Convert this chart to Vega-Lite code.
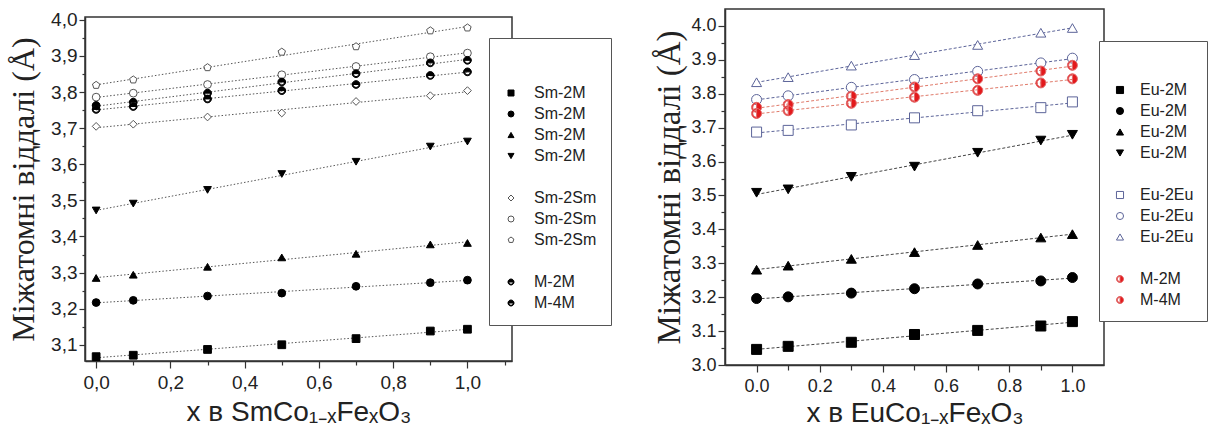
{
  "$schema": "https://vega.github.io/schema/vega-lite/v6.json",
  "padding": {"left": 6, "top": 8, "right": 0, "bottom": 0},
  "spacing": 40,
  "background": "white",
  "config": {
    "view": {"stroke": "#333", "strokeWidth": 1.5},
    "axis": {"grid": false, "domainColor": "#333", "domainWidth": 1.5, "tickColor": "#333", "tickWidth": 1.2, "labelColor": "#222", "titleColor": "#222", "labelFont": "Liberation Sans", "titleFontWeight": "normal"}
  },
  "resolve": {
    "scale": {"x": "independent", "y": "independent", "shape": "independent", "fill": "independent", "stroke": "independent", "color": "independent"},
    "legend": {"shape": "independent", "fill": "independent", "stroke": "independent"}
  },
  "datasets": {
    "sm": [
      {"x": 0, "v": 3.067, "s": "Sm-2M|1"}, {"x": 0.1, "v": 3.071, "s": "Sm-2M|1"}, {"x": 0.3, "v": 3.087, "s": "Sm-2M|1"}, {"x": 0.5, "v": 3.100, "s": "Sm-2M|1"}, {"x": 0.7, "v": 3.117, "s": "Sm-2M|1"}, {"x": 0.9, "v": 3.138, "s": "Sm-2M|1"}, {"x": 1.0, "v": 3.143, "s": "Sm-2M|1"},
      {"x": 0, "v": 3.217, "s": "Sm-2M|2"}, {"x": 0.1, "v": 3.223, "s": "Sm-2M|2"}, {"x": 0.3, "v": 3.235, "s": "Sm-2M|2"}, {"x": 0.5, "v": 3.243, "s": "Sm-2M|2"}, {"x": 0.7, "v": 3.262, "s": "Sm-2M|2"}, {"x": 0.9, "v": 3.272, "s": "Sm-2M|2"}, {"x": 1.0, "v": 3.279, "s": "Sm-2M|2"},
      {"x": 0, "v": 3.285, "s": "Sm-2M|3"}, {"x": 0.1, "v": 3.294, "s": "Sm-2M|3"}, {"x": 0.3, "v": 3.316, "s": "Sm-2M|3"}, {"x": 0.5, "v": 3.342, "s": "Sm-2M|3"}, {"x": 0.7, "v": 3.352, "s": "Sm-2M|3"}, {"x": 0.9, "v": 3.378, "s": "Sm-2M|3"}, {"x": 1.0, "v": 3.382, "s": "Sm-2M|3"},
      {"x": 0, "v": 3.472, "s": "Sm-2M|4"}, {"x": 0.1, "v": 3.491, "s": "Sm-2M|4"}, {"x": 0.3, "v": 3.529, "s": "Sm-2M|4"}, {"x": 0.5, "v": 3.573, "s": "Sm-2M|4"}, {"x": 0.7, "v": 3.607, "s": "Sm-2M|4"}, {"x": 0.9, "v": 3.649, "s": "Sm-2M|4"}, {"x": 1.0, "v": 3.663, "s": "Sm-2M|4"},
      {"x": 0, "v": 3.705, "s": "Sm-2Sm|1"}, {"x": 0.1, "v": 3.711, "s": "Sm-2Sm|1"}, {"x": 0.3, "v": 3.731, "s": "Sm-2Sm|1"}, {"x": 0.5, "v": 3.742, "s": "Sm-2Sm|1"}, {"x": 0.7, "v": 3.774, "s": "Sm-2Sm|1"}, {"x": 0.9, "v": 3.790, "s": "Sm-2Sm|1"}, {"x": 1.0, "v": 3.804, "s": "Sm-2Sm|1"},
      {"x": 0, "v": 3.786, "s": "Sm-2Sm|2"}, {"x": 0.1, "v": 3.797, "s": "Sm-2Sm|2"}, {"x": 0.3, "v": 3.821, "s": "Sm-2Sm|2"}, {"x": 0.5, "v": 3.848, "s": "Sm-2Sm|2"}, {"x": 0.7, "v": 3.871, "s": "Sm-2Sm|2"}, {"x": 0.9, "v": 3.898, "s": "Sm-2Sm|2"}, {"x": 1.0, "v": 3.908, "s": "Sm-2Sm|2"},
      {"x": 0, "v": 3.819, "s": "Sm-2Sm|3"}, {"x": 0.1, "v": 3.834, "s": "Sm-2Sm|3"}, {"x": 0.3, "v": 3.868, "s": "Sm-2Sm|3"}, {"x": 0.5, "v": 3.911, "s": "Sm-2Sm|3"}, {"x": 0.7, "v": 3.926, "s": "Sm-2Sm|3"}, {"x": 0.9, "v": 3.970, "s": "Sm-2Sm|3"}, {"x": 1.0, "v": 3.978, "s": "Sm-2Sm|3"},
      {"x": 0, "v": 3.763, "s": "M-2M|1"}, {"x": 0.1, "v": 3.772, "s": "M-2M|1"}, {"x": 0.3, "v": 3.797, "s": "M-2M|1"}, {"x": 0.5, "v": 3.828, "s": "M-2M|1"}, {"x": 0.7, "v": 3.851, "s": "M-2M|1"}, {"x": 0.9, "v": 3.881, "s": "M-2M|1"}, {"x": 1.0, "v": 3.888, "s": "M-2M|1"},
      {"x": 0, "v": 3.752, "s": "M-4M|1"}, {"x": 0.1, "v": 3.760, "s": "M-4M|1"}, {"x": 0.3, "v": 3.781, "s": "M-4M|1"}, {"x": 0.5, "v": 3.804, "s": "M-4M|1"}, {"x": 0.7, "v": 3.821, "s": "M-4M|1"}, {"x": 0.9, "v": 3.846, "s": "M-4M|1"}, {"x": 1.0, "v": 3.856, "s": "M-4M|1"}
    ],
    "eu": [
      {"x": 0, "v": 3.046, "s": "Eu-2M|1"}, {"x": 0.1, "v": 3.055, "s": "Eu-2M|1"}, {"x": 0.3, "v": 3.067, "s": "Eu-2M|1"}, {"x": 0.5, "v": 3.090, "s": "Eu-2M|1"}, {"x": 0.7, "v": 3.102, "s": "Eu-2M|1"}, {"x": 0.9, "v": 3.115, "s": "Eu-2M|1"}, {"x": 1.0, "v": 3.128, "s": "Eu-2M|1"},
      {"x": 0, "v": 3.196, "s": "Eu-2M|2"}, {"x": 0.1, "v": 3.201, "s": "Eu-2M|2"}, {"x": 0.3, "v": 3.212, "s": "Eu-2M|2"}, {"x": 0.5, "v": 3.225, "s": "Eu-2M|2"}, {"x": 0.7, "v": 3.239, "s": "Eu-2M|2"}, {"x": 0.9, "v": 3.248, "s": "Eu-2M|2"}, {"x": 1.0, "v": 3.258, "s": "Eu-2M|2"},
      {"x": 0, "v": 3.281, "s": "Eu-2M|3"}, {"x": 0.1, "v": 3.293, "s": "Eu-2M|3"}, {"x": 0.3, "v": 3.313, "s": "Eu-2M|3"}, {"x": 0.5, "v": 3.333, "s": "Eu-2M|3"}, {"x": 0.7, "v": 3.354, "s": "Eu-2M|3"}, {"x": 0.9, "v": 3.376, "s": "Eu-2M|3"}, {"x": 1.0, "v": 3.386, "s": "Eu-2M|3"},
      {"x": 0, "v": 3.508, "s": "Eu-2M|4"}, {"x": 0.1, "v": 3.518, "s": "Eu-2M|4"}, {"x": 0.3, "v": 3.555, "s": "Eu-2M|4"}, {"x": 0.5, "v": 3.585, "s": "Eu-2M|4"}, {"x": 0.7, "v": 3.626, "s": "Eu-2M|4"}, {"x": 0.9, "v": 3.662, "s": "Eu-2M|4"}, {"x": 1.0, "v": 3.679, "s": "Eu-2M|4"},
      {"x": 0, "v": 3.687, "s": "Eu-2Eu|1"}, {"x": 0.1, "v": 3.692, "s": "Eu-2Eu|1"}, {"x": 0.3, "v": 3.708, "s": "Eu-2Eu|1"}, {"x": 0.5, "v": 3.729, "s": "Eu-2Eu|1"}, {"x": 0.7, "v": 3.750, "s": "Eu-2Eu|1"}, {"x": 0.9, "v": 3.759, "s": "Eu-2Eu|1"}, {"x": 1.0, "v": 3.776, "s": "Eu-2Eu|1"},
      {"x": 0, "v": 3.783, "s": "Eu-2Eu|2"}, {"x": 0.1, "v": 3.794, "s": "Eu-2Eu|2"}, {"x": 0.3, "v": 3.819, "s": "Eu-2Eu|2"}, {"x": 0.5, "v": 3.842, "s": "Eu-2Eu|2"}, {"x": 0.7, "v": 3.866, "s": "Eu-2Eu|2"}, {"x": 0.9, "v": 3.891, "s": "Eu-2Eu|2"}, {"x": 1.0, "v": 3.905, "s": "Eu-2Eu|2"},
      {"x": 0, "v": 3.834, "s": "Eu-2Eu|3"}, {"x": 0.1, "v": 3.849, "s": "Eu-2Eu|3"}, {"x": 0.3, "v": 3.883, "s": "Eu-2Eu|3"}, {"x": 0.5, "v": 3.914, "s": "Eu-2Eu|3"}, {"x": 0.7, "v": 3.944, "s": "Eu-2Eu|3"}, {"x": 0.9, "v": 3.980, "s": "Eu-2Eu|3"}, {"x": 1.0, "v": 3.994, "s": "Eu-2Eu|3"},
      {"x": 0, "v": 3.760, "s": "M-2M|1"}, {"x": 0.1, "v": 3.768, "s": "M-2M|1"}, {"x": 0.3, "v": 3.793, "s": "M-2M|1"}, {"x": 0.5, "v": 3.820, "s": "M-2M|1"}, {"x": 0.7, "v": 3.844, "s": "M-2M|1"}, {"x": 0.9, "v": 3.867, "s": "M-2M|1"}, {"x": 1.0, "v": 3.884, "s": "M-2M|1"},
      {"x": 0, "v": 3.742, "s": "M-4M|1"}, {"x": 0.1, "v": 3.750, "s": "M-4M|1"}, {"x": 0.3, "v": 3.772, "s": "M-4M|1"}, {"x": 0.5, "v": 3.790, "s": "M-4M|1"}, {"x": 0.7, "v": 3.810, "s": "M-4M|1"}, {"x": 0.9, "v": 3.832, "s": "M-4M|1"}, {"x": 1.0, "v": 3.844, "s": "M-4M|1"}
    ]
  },
  "hconcat": [
    {
      "spacing": 0,
      "resolve": {
        "scale": {"x": "independent", "y": "independent", "shape": "independent", "fill": "independent", "stroke": "independent"},
        "legend": {"shape": "independent", "fill": "independent", "stroke": "independent"}
      },
      "vconcat": [
        {"width": 10, "height": 1, "view": {"stroke": null}, "data": {"values": []}, "mark": "point"},
        {
          "width": 427,
          "height": 344,
          "data": {"name": "sm"},
          "encoding": {
            "x": {"field": "x", "type": "quantitative",
              "scale": {"domain": [-0.03, 1.12], "nice": false, "zero": false},
              "axis": {"title": "x в SmCo₁₋ₓFeₓO₃", "titleFont": "Liberation Sans", "titleFontSize": 28, "titlePadding": 6,
                "values": [0, 0.1, 0.2, 0.3, 0.4, 0.5, 0.6, 0.7, 0.8, 0.9, 1.0, 1.1],
                "labelExpr": "abs(datum.value*5 - round(datum.value*5)) < 0.001 ? replace(format(datum.value, '.1f'), '.', ',') : ''",
                "labelFontSize": 19, "labelPadding": 5, "labelFlush": false, "labelOverlap": false,
                "tickSize": {"condition": {"test": "abs(datum.value*5 - round(datum.value*5)) < 0.001", "value": 7}, "value": 4}}},
            "y": {"field": "v", "type": "quantitative",
              "scale": {"domain": [3.055, 4.008], "nice": false, "zero": false},
              "axis": {"title": "Міжатомні віддалі (Å)", "titleFont": "Liberation Serif", "titleFontSize": 32, "titlePadding": 10,
                "values": [3.1, 3.15, 3.2, 3.25, 3.3, 3.35, 3.4, 3.45, 3.5, 3.55, 3.6, 3.65, 3.7, 3.75, 3.8, 3.85, 3.9, 3.95, 4.0],
                "labelExpr": "abs(datum.value*10 - round(datum.value*10)) < 0.001 ? replace(format(datum.value, '.1f'), '.', ',') : ''",
                "labelFontSize": 19, "labelPadding": 2, "labelFlush": false, "labelOverlap": false,
                "tickSize": {"condition": {"test": "abs(datum.value*10 - round(datum.value*10)) < 0.001", "value": 6}, "value": 3}}}
          },
          "layer": [
            {
              "transform": [{"regression": "v", "on": "x", "groupby": ["s"], "method": "linear"}],
              "mark": {"type": "line", "color": "#555", "strokeWidth": 1, "strokeDash": [1.5, 2]},
              "encoding": {"detail": {"field": "s", "type": "nominal"}}
            },
            {
              "mark": {"type": "point", "filled": true, "size": 60, "strokeWidth": 1, "opacity": 1},
              "encoding": {
                "shape": {"field": "s", "type": "nominal",
                  "scale": {"domain": ["Sm-2M|1", "Sm-2M|2", "Sm-2M|3", "Sm-2M|4", "|g1", "Sm-2Sm|1", "Sm-2Sm|2", "Sm-2Sm|3", "|g2", "M-2M|1", "M-4M|1"],
                    "range": ["square", "circle", "triangle-up", "triangle-down", "M0,0", "diamond", "circle", "M0,-1L0.951,-0.309L0.588,0.809L-0.588,0.809L-0.951,-0.309Z", "M0,0", "M-1,0A1,1,0,0,1,1,0ZM1,0A1,1,0,0,1,-1,0L-0.75,0A0.75,0.75,0,0,0,0.75,0Z", "M-1,0A1,1,0,0,1,1,0ZM1,0A1,1,0,0,1,-1,0L-0.75,0A0.75,0.75,0,0,0,0.75,0Z"]},
                  "legend": {"orient": "none", "legendX": 404, "legendY": 21, "title": " ", "titleFontSize": 10, "titlePadding": 23, "padding": 14, "strokeColor": "#555", "fillColor": "white", "labelFont": "Liberation Sans", "labelFontSize": 16, "labelColor": "#222", "labelOffset": 15, "rowPadding": 5, "symbolSize": 36, "symbolStrokeWidth": 1, "labelExpr": "split(datum.label, '|')[0]"}},
                "fill": {"field": "s", "type": "nominal",
                  "scale": {"domain": ["Sm-2M|1", "Sm-2M|2", "Sm-2M|3", "Sm-2M|4", "|g1", "Sm-2Sm|1", "Sm-2Sm|2", "Sm-2Sm|3", "|g2", "M-2M|1", "M-4M|1"],
                    "range": ["#000", "#000", "#000", "#000", "rgba(0,0,0,0)", "white", "white", "white", "rgba(0,0,0,0)", "#000", "#000"]},
                  "legend": {"orient": "none", "legendX": 404, "legendY": 21, "title": " ", "titleFontSize": 10, "titlePadding": 23, "padding": 14, "strokeColor": "#555", "fillColor": "white", "labelFont": "Liberation Sans", "labelFontSize": 16, "labelColor": "#222", "labelOffset": 15, "rowPadding": 5, "symbolSize": 36, "symbolStrokeWidth": 1, "labelExpr": "split(datum.label, '|')[0]"}},
                "stroke": {"field": "s", "type": "nominal",
                  "scale": {"domain": ["Sm-2M|1", "Sm-2M|2", "Sm-2M|3", "Sm-2M|4", "|g1", "Sm-2Sm|1", "Sm-2Sm|2", "Sm-2Sm|3", "|g2", "M-2M|1", "M-4M|1"],
                    "range": ["#000", "#000", "#000", "#000", "rgba(0,0,0,0)", "#555", "#555", "#555", "rgba(0,0,0,0)", "#000", "#000"]},
                  "legend": {"orient": "none", "legendX": 404, "legendY": 21, "title": " ", "titleFontSize": 10, "titlePadding": 23, "padding": 14, "strokeColor": "#555", "fillColor": "white", "labelFont": "Liberation Sans", "labelFontSize": 16, "labelColor": "#222", "labelOffset": 15, "rowPadding": 5, "symbolSize": 36, "symbolStrokeWidth": 1, "labelExpr": "split(datum.label, '|')[0]"}}
              }
            }
          ]
        }
      ]
    },
    {
      "width": 379,
      "height": 356,
      "data": {"name": "eu"},
      "encoding": {
        "x": {"field": "x", "type": "quantitative",
          "scale": {"domain": [-0.1, 1.1], "nice": false, "zero": false},
          "axis": {"title": "x  в EuCo₁₋ₓFeₓO₃", "titleFont": "Liberation Sans", "titleFontSize": 28, "titlePadding": 4,
            "values": [0, 0.1, 0.2, 0.3, 0.4, 0.5, 0.6, 0.7, 0.8, 0.9, 1.0],
            "labelExpr": "abs(datum.value*5 - round(datum.value*5)) < 0.001 ? format(datum.value, '.1f') : ''",
            "labelFontSize": 18, "labelPadding": 5, "labelFlush": false, "labelOverlap": false,
            "tickSize": {"condition": {"test": "abs(datum.value*5 - round(datum.value*5)) < 0.001", "value": 7}, "value": 5}}},
        "y": {"field": "v", "type": "quantitative",
          "scale": {"domain": [3.0, 4.05], "nice": false, "zero": false},
          "axis": {"title": "Міжатомні віддалі (Å)", "titleFont": "Liberation Serif", "titleFontSize": 33, "titlePadding": 4,
            "values": [3.0, 3.05, 3.1, 3.15, 3.2, 3.25, 3.3, 3.35, 3.4, 3.45, 3.5, 3.55, 3.6, 3.65, 3.7, 3.75, 3.8, 3.85, 3.9, 3.95, 4.0],
            "labelExpr": "abs(datum.value*10 - round(datum.value*10)) < 0.001 ? format(datum.value, '.1f') : ''",
            "labelFontSize": 18, "labelPadding": 2, "labelFlush": false, "labelOverlap": false,
            "tickSize": {"condition": {"test": "abs(datum.value*10 - round(datum.value*10)) < 0.001", "value": 7}, "value": 4}}}
      },
      "layer": [
        {
          "transform": [{"regression": "v", "on": "x", "groupby": ["s"], "method": "linear"}],
          "mark": {"type": "line", "strokeWidth": 1, "strokeDash": [3, 2]},
          "encoding": {
            "color": {"field": "s", "type": "nominal", "legend": null,
              "scale": {"domain": ["Eu-2M|1", "Eu-2M|2", "Eu-2M|3", "Eu-2M|4", "Eu-2Eu|1", "Eu-2Eu|2", "Eu-2Eu|3", "M-2M|1", "M-4M|1"],
                "range": ["#444", "#444", "#444", "#444", "#5c6499", "#5c6499", "#5c6499", "#e07a6a", "#e07a6a"]}}
          }
        },
        {
          "mark": {"type": "point", "filled": true, "size": 100, "strokeWidth": 1, "opacity": 1},
          "encoding": {
            "shape": {"field": "s", "type": "nominal",
              "scale": {"domain": ["Eu-2M|1", "Eu-2M|2", "Eu-2M|3", "Eu-2M|4", "|g1", "Eu-2Eu|1", "Eu-2Eu|2", "Eu-2Eu|3", "|g2", "M-2M|1", "M-4M|1"],
                "range": ["square", "circle", "triangle-up", "triangle-down", "M0,0", "square", "circle", "triangle-up", "M0,0", "M0,-1A1,1,0,0,1,0,1ZM0,1A1,1,0,0,1,0,-1L0,-0.75A0.75,0.75,0,0,0,0,0.75Z", "M0,-1A1,1,0,0,1,0,1ZM0,1A1,1,0,0,1,0,-1L0,-0.75A0.75,0.75,0,0,0,0,0.75Z"]},
              "legend": {"orient": "none", "legendX": 374, "legendY": 32, "title": " ", "titleFontSize": 10, "titlePadding": 18, "padding": 13, "strokeColor": "#555", "fillColor": "white", "labelFont": "Liberation Sans", "labelFontSize": 16, "labelColor": "#222", "labelOffset": 12, "rowPadding": 5, "symbolSize": 50, "symbolStrokeWidth": 1, "labelExpr": "split(datum.label, '|')[0]"}},
            "fill": {"field": "s", "type": "nominal",
              "scale": {"domain": ["Eu-2M|1", "Eu-2M|2", "Eu-2M|3", "Eu-2M|4", "|g1", "Eu-2Eu|1", "Eu-2Eu|2", "Eu-2Eu|3", "|g2", "M-2M|1", "M-4M|1"],
                "range": ["#000", "#000", "#000", "#000", "rgba(0,0,0,0)", "white", "white", "white", "rgba(0,0,0,0)", "#e3191c", "#e3191c"]},
              "legend": {"orient": "none", "legendX": 374, "legendY": 32, "title": " ", "titleFontSize": 10, "titlePadding": 18, "padding": 13, "strokeColor": "#555", "fillColor": "white", "labelFont": "Liberation Sans", "labelFontSize": 16, "labelColor": "#222", "labelOffset": 12, "rowPadding": 5, "symbolSize": 50, "symbolStrokeWidth": 1, "labelExpr": "split(datum.label, '|')[0]"}},
            "stroke": {"field": "s", "type": "nominal",
              "scale": {"domain": ["Eu-2M|1", "Eu-2M|2", "Eu-2M|3", "Eu-2M|4", "|g1", "Eu-2Eu|1", "Eu-2Eu|2", "Eu-2Eu|3", "|g2", "M-2M|1", "M-4M|1"],
                "range": ["#000", "#000", "#000", "#000", "rgba(0,0,0,0)", "#5c6499", "#5c6499", "#5c6499", "rgba(0,0,0,0)", "#e36a6a", "#e36a6a"]},
              "legend": {"orient": "none", "legendX": 374, "legendY": 32, "title": " ", "titleFontSize": 10, "titlePadding": 18, "padding": 13, "strokeColor": "#555", "fillColor": "white", "labelFont": "Liberation Sans", "labelFontSize": 16, "labelColor": "#222", "labelOffset": 12, "rowPadding": 5, "symbolSize": 50, "symbolStrokeWidth": 1, "labelExpr": "split(datum.label, '|')[0]"}}
          }
        }
      ]
    }
  ]
}
